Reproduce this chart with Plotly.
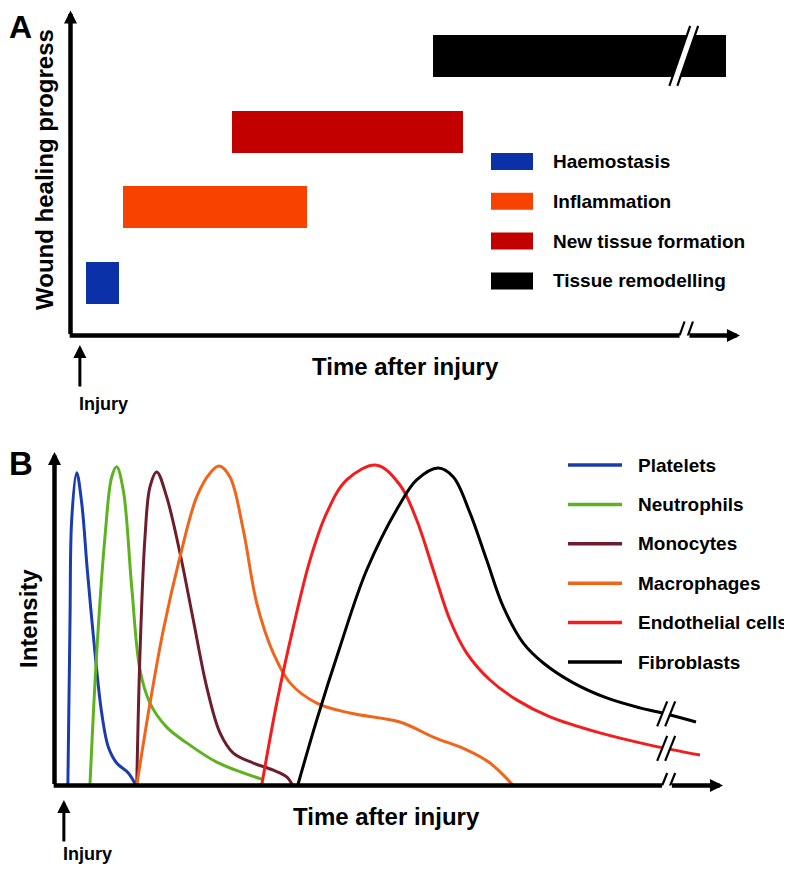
import numpy as np
import plotly.graph_objects as go

# The page adds an 8 px body margin, so the figure is drawn 8 px smaller and
# every reference pixel position is shifted by that margin.
OFF = 8
W, H = 792 - OFF, 870 - OFF

# ---------------- Panel A data (time in arbitrary units 0-100) ----------------
phases = ["Haemostasis", "Inflammation", "New tissue formation", "Tissue remodelling"]
phase_start = [2.2, 7.7, 24.1, 54.0]
phase_end = [7.1, 35.2, 58.5, 97.9]
phase_level = [0, 1, 2, 3]
phase_colors = ["#0b31a9", "#f84300", "#c20000", "#000000"]
remodelling_break = 91.6

# ---------------- Panel B data (time 0-100, intensity 0-1) ----------------
cells = ["Platelets", "Neutrophils", "Monocytes", "Macrophages", "Endothelial cells", "Fibroblasts"]
cell_colors = ["#1a3cae", "#5cb31f", "#6e1d2d", "#f0651a", "#f41c1c", "#000000"]

platelets_t = [2.0, 2.32, 2.57, 3.32, 4.07, 4.91, 6.06, 7.06, 8.05, 9.30, 11.04, 12.19]
platelets_i = [0.0, 0.517, 0.828, 0.975, 0.881, 0.672, 0.413, 0.226, 0.120, 0.070, 0.039, 0.0]
neutrophils_t = [5.3, 6.31, 7.55, 8.56, 9.30, 10.29, 11.55, 12.79, 14.28, 16.78, 19.78, 24.26, 30.99]
neutrophils_i = [0.0, 0.413, 0.775, 0.962, 0.994, 0.921, 0.619, 0.360, 0.257, 0.182, 0.133, 0.073, 0.02]
monocytes_t = [12.3, 12.79, 13.54, 14.28, 15.29, 16.78, 18.77, 20.76, 22.77, 24.76, 26.75, 29.74, 32.73, 34.73, 35.63]
monocytes_i = [0.0, 0.413, 0.775, 0.931, 0.978, 0.900, 0.725, 0.516, 0.307, 0.164, 0.101, 0.070, 0.048, 0.027, 0.0]
macrophages_t = [12.3, 14.29, 16.28, 18.77, 21.27, 23.26, 24.61, 26.25, 28.24, 30.25, 32.73, 35.23, 39.22, 44.20,
                 51.68, 56.66, 61.66, 65.15, 68.63]
macrophages_i = [0.0, 0.257, 0.485, 0.713, 0.900, 0.974, 0.996, 0.962, 0.797, 0.569, 0.413, 0.320, 0.257, 0.226,
                 0.198, 0.151, 0.111, 0.070, 0.0]
endothelial_t = [30.99, 33.24, 35.72, 38.22, 40.72, 43.71, 48.20, 51.68, 54.18, 56.66, 59.16, 61.66, 65.15, 69.14,
                 74.12, 81.60, 89.08, 96.56]
endothelial_i = [0.0, 0.257, 0.494, 0.703, 0.850, 0.953, 0.999, 0.937, 0.828, 0.672, 0.516, 0.413, 0.329, 0.267,
                 0.214, 0.164, 0.126, 0.095]
fibroblasts_t = [36.38, 39.22, 42.70, 46.70, 51.68, 54.18, 57.41, 59.66, 62.15, 64.65, 67.14, 70.13, 73.12, 77.61,
                 82.60, 87.58, 91.58, 95.96]
fibroblasts_i = [0.0, 0.204, 0.432, 0.672, 0.878, 0.953, 0.990, 0.962, 0.850, 0.703, 0.557, 0.444, 0.382, 0.320,
                 0.273, 0.242, 0.223, 0.198]
intensity_break = 91.5
injury_time = 1.4

series_t = [platelets_t, neutrophils_t, monocytes_t, macrophages_t, endothelial_t, fibroblasts_t]
series_i = [platelets_i, neutrophils_i, monocytes_i, macrophages_i, endothelial_i, fibroblasts_i]

# ---------------- styling ----------------
FONT = "Liberation Sans, Arial, Helvetica, sans-serif"


def px(xp):
    """reference pixel x -> paper fraction"""
    return (xp - OFF) / W


def py(yp):
    """reference pixel y -> paper fraction"""
    return 1 - (yp - OFF) / H


fig = go.Figure()

# Panel A bars
fig.add_trace(go.Bar(
    y=phase_level, x=[e - s for s, e in zip(phase_start, phase_end)], base=phase_start,
    orientation="h", width=0.556, marker=dict(color=phase_colors, line=dict(width=0)),
    xaxis="x", yaxis="y", showlegend=False, hoverinfo="skip", text=phases, textposition="none",
))

# Panel B curves
for name, col, t, i in zip(cells, cell_colors, series_t, series_i):
    fig.add_trace(go.Scatter(
        x=t, y=i, name=name, mode="lines", line=dict(color=col, width=3, shape="spline", smoothing=1.0),
        xaxis="x2", yaxis="y2", showlegend=False, hoverinfo="skip",
    ))

annotations = []
shapes = []


def arrow(x, y, ax, ay, xref, yref, head=True, width=4.5, size=0.58):
    annotations.append(dict(
        x=x, y=y, ax=ax, ay=ay, xref=xref, yref=yref, axref=xref, ayref=yref, text="",
        showarrow=True, arrowhead=2 if head else 0, arrowwidth=width, arrowsize=size,
        arrowcolor="black",
    ))


def break_mark(xa, ya, xref, yref, hdx, hdy, sep=4.2, lw=2.2):
    path = (f"M{-hdx - sep},{-hdy} L{hdx - sep},{hdy} L{hdx + sep},{hdy} L{-hdx + sep},{-hdy} Z")
    common = dict(xref=xref, yref=yref, xsizemode="pixel", ysizemode="pixel", xanchor=xa, yanchor=ya,
                  layer="above")
    shapes.append(dict(type="path", path=path, fillcolor="white", line=dict(width=0), **common))
    for s in (-sep, sep):
        shapes.append(dict(type="line", x0=-hdx + s, y0=-hdy, x1=hdx + s, y1=hdy,
                           line=dict(color="black", width=lw), **common))


# ---- Panel A axes ----
y_bottom_a, y_top_a = -0.7, 3.6
arrow(0, y_top_a, 0, y_bottom_a, "x", "y")
arrow(remodelling_break - 0.63, y_bottom_a, -0.35, y_bottom_a, "x", "y", head=False)
arrow(100, y_bottom_a, remodelling_break + 0.63, y_bottom_a, "x", "y")
break_mark(remodelling_break, y_bottom_a, "x", "y", 5, 14)
break_mark(remodelling_break, phase_level[3], "x", "y", 10.4, 30, sep=4.0, lw=2.2)

# ---- Panel B axes ----
y_top_b = 1.04
arrow(0, y_top_b, 0, 0, "x2", "y2")
arrow(intensity_break - 0.63, 0, -0.35, 0, "x2", "y2", head=False)
arrow(100, 0, intensity_break + 0.63, 0, "x2", "y2")
break_mark(intensity_break, 0, "x2", "y2", 5, 12.5, sep=4.0)
break_mark(intensity_break, float(np.interp(intensity_break, endothelial_t, endothelial_i)), "x2", "y2", 5, 12.5,
           sep=4.0)
break_mark(intensity_break, float(np.interp(intensity_break, fibroblasts_t, fibroblasts_i)), "x2", "y2", 5, 12.5,
           sep=4.0)

# ---- Injury arrows ----
for xref, tip, label_y, label_x in (("x", 345, 404, 77), ("x2", 800, 854, 61)):
    annotations.append(dict(x=injury_time, y=py(tip), xref=xref, yref="paper", ax=0, ay=43, axref="pixel",
                            ayref="pixel", text="", showarrow=True, arrowhead=2, arrowwidth=3, arrowsize=0.87,
                            arrowcolor="black"))
    annotations.append(dict(x=px(label_x), y=py(label_y), xref="paper", yref="paper", text="Injury",
                            showarrow=False, xanchor="left", yanchor="middle",
                            font=dict(family=FONT, size=18, color="black", weight="bold")))


# ---- titles ----
def label(text, x, y, size=24, angle=0):
    annotations.append(dict(x=px(x), y=py(y), xref="paper", yref="paper", text=text, showarrow=False,
                            xanchor="center", yanchor="middle", textangle=angle,
                            font=dict(family=FONT, size=size, color="black", weight="bold")))


label("Time after injury", 405, 367)
label("Wound healing progress", 45, 170, angle=-90)
label("Time after injury", 386, 816)
label("Intensity", 28, 619, angle=-90)
label("B", 21, 463, size=33)
# panel letter A sits in the very top-left corner of the page
annotations.append(dict(x=0, y=1, xref="paper", yref="paper", text="A", showarrow=False, xanchor="left",
                        yanchor="top", borderpad=0,
                        font=dict(family=FONT, size=32, color="black", weight="bold")))

# ---- legends ----
for k, (name, col) in enumerate(zip(phases, phase_colors)):
    cy = 161.5 + 39.8 * k
    shapes.append(dict(type="rect", xref="paper", yref="paper", x0=px(491), x1=px(533), y0=py(cy + 8.5),
                       y1=py(cy - 8.5), fillcolor=col, line=dict(width=0)))
    annotations.append(dict(x=px(551), y=py(cy), xref="paper", yref="paper", text=name, showarrow=False,
                            xanchor="left", yanchor="middle",
                            font=dict(family=FONT, size=19, color="black", weight="bold")))

for k, (name, col) in enumerate(zip(cells, cell_colors)):
    cy = 465 + 39.4 * k
    shapes.append(dict(type="line", xref="paper", yref="paper", x0=px(568), x1=px(622), y0=py(cy), y1=py(cy),
                       line=dict(color=col, width=3.5)))
    annotations.append(dict(x=px(636), y=py(cy), xref="paper", yref="paper", text=name, showarrow=False,
                            xanchor="left", yanchor="middle",
                            font=dict(family=FONT, size=19, color="black", weight="bold")))

y_unit_px = 75.57  # vertical pixel size of one phase level
fig.update_layout(
    width=W, height=H, autosize=False, margin=dict(l=0, r=0, t=0, b=0),
    paper_bgcolor="white", plot_bgcolor="white", showlegend=False, bargap=0,
    xaxis=dict(domain=[px(70.5), px(740)], range=[0, 100], visible=False, fixedrange=True, anchor="y"),
    yaxis=dict(domain=[py(335.5), py(335.5 - (y_top_a - y_bottom_a) * y_unit_px)], range=[y_bottom_a, y_top_a],
               visible=False, fixedrange=True, anchor="x"),
    xaxis2=dict(domain=[px(54.5), px(723)], range=[0, 100], visible=False, fixedrange=True, anchor="y2"),
    yaxis2=dict(domain=[py(785.5), py(452)], range=[0, y_top_b], visible=False, fixedrange=True, anchor="x2"),
    annotations=annotations, shapes=shapes,
)

fig.write_html("out.html")
